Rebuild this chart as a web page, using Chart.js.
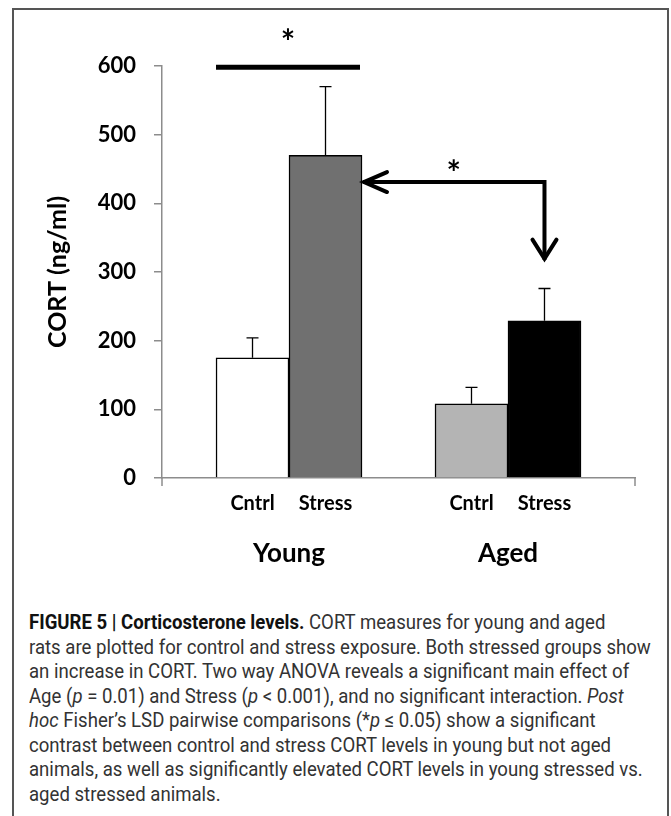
<!DOCTYPE html>
<html>
<head>
<meta charset="utf-8">
<script src="https://cdn.jsdelivr.net/npm/chart.js@4/dist/chart.umd.min.js"></script>
<style>
    html, body { margin: 0; padding: 0; background: #fff; }
    body { width: 671px; height: 816px; position: relative; overflow: hidden; }
    #frame { position: absolute; left: 12px; top: 8px; width: 657px; height: 830px; border: 2px solid #555; box-sizing: border-box; }
    #chartBox { position: absolute; left: 0; top: 0; width: 671px; height: 600px; }
    #caption {
        position: absolute; left: 29px; top: 610px; width: 760px;
        font-family: Roboto, "Liberation Sans", sans-serif; font-size: 21px; line-height: 24.5px;
        color: #333; white-space: nowrap;
        transform: scaleX(0.885); transform-origin: left top;
    }
    #caption b { color: #111; font-weight: 700; }
</style>
</head>
<body>
<div id="frame"></div>
<div id="chartBox"><canvas id="cortChart" width="671" height="600"></canvas></div>
<div id="caption">
    <b>FIGURE 5 | Corticosterone levels.</b> CORT measures for young and aged<br>
    rats are plotted for control and stress exposure. Both stressed groups show<br>
    an increase in CORT. Two way ANOVA reveals a significant main effect of<br>
    Age (<i>p</i> = 0.01) and Stress (<i>p</i> &lt; 0.001), and no significant interaction. <i>Post</i><br>
    <i>hoc</i> Fisher’s LSD pairwise comparisons (*<i>p</i> ≤ 0.05) show a significant<br>
    contrast between control and stress CORT levels in young but not aged<br>
    animals, as well as significantly elevated CORT levels in young stressed vs.<br>
    aged stressed animals.
</div>

<script>
// data
const groups = ['Young', 'Aged'];
const conditions = ['Cntrl', 'Stress', 'Cntrl', 'Stress'];
const groupOf = [0, 0, 1, 1];
const cortMean = [175, 470, 108, 229];
const cortErr = [29, 100, 24, 47];
const barColors = ['#ffffff', '#707070', '#b4b4b4', '#000000'];
const yTicks = [0, 100, 200, 300, 400, 500, 600];

// one empty slot between the two age groups
const slots = conditions.map((c, i) => i + groupOf[i]);
const slotLabel = {};
slots.forEach((s, i) => { slotLabel[s] = conditions[i]; });
const groupCenter = groups.map((g, gi) => {
    const s = slots.filter((v, i) => groupOf[i] === gi);
    return (Math.min(...s) + Math.max(...s)) / 2;
});

const FONT = 'Lato, "Open Sans", "DejaVu Sans", sans-serif';

const annotate = {
    id: 'annotate',
    afterDatasetsDraw(chart) {
        const { ctx, scales: { x, y } } = chart;
        const bars = chart.getDatasetMeta(0).data;
        ctx.save();

        // error bars (upper only)
        ctx.strokeStyle = '#000';
        ctx.lineWidth = 1.3;
        bars.forEach((bar, i) => {
            const top = y.getPixelForValue(cortMean[i] + cortErr[i]);
            ctx.beginPath();
            ctx.moveTo(bar.x, bar.y);
            ctx.lineTo(bar.x, top);
            ctx.moveTo(bar.x - 6, top);
            ctx.lineTo(bar.x + 6, top);
            ctx.stroke();
        });

        // small tick marks at both ends of the x axis
        ctx.strokeStyle = '#8c8c8c';
        ctx.lineWidth = 1.5;
        [x.left, x.right].forEach(px => {
            ctx.beginPath();
            ctx.moveTo(px, y.bottom);
            ctx.lineTo(px, y.bottom + 8);
            ctx.stroke();
        });

        // significance bar over young group
        const b0 = bars[0], b1 = bars[1], b3 = bars[3];
        const lx0 = b0.x - b0.width / 2;
        const lx1 = b1.x + b1.width / 2 - 2;
        const ly = y.getPixelForValue(598);
        ctx.strokeStyle = '#000';
        ctx.lineWidth = 5;
        ctx.beginPath();
        ctx.moveTo(lx0, ly);
        ctx.lineTo(lx1, ly);
        ctx.stroke();

        ctx.fillStyle = '#000';
        ctx.font = 'bold 34px ' + FONT;
        ctx.textAlign = 'center';
        ctx.textBaseline = 'middle';
        ctx.fillText('*', (lx0 + lx1) / 2, ly - 24);

        // elbow arrow between young stress and aged stress
        const hy = y.getPixelForValue(431);
        const vx = b3.x;
        const hx = b1.x + b1.width / 2 + 1;
        const vy = y.getPixelForValue(318);
        ctx.lineWidth = 4;
        ctx.lineJoin = 'miter';
        ctx.beginPath();
        ctx.moveTo(hx, hy);
        ctx.lineTo(vx, hy);
        ctx.lineTo(vx, vy);
        ctx.stroke();

        ctx.lineCap = 'round';
        ctx.beginPath();
        ctx.moveTo(hx + 24, hy - 10);
        ctx.lineTo(hx + 1, hy);
        ctx.lineTo(hx + 24, hy + 10);
        ctx.stroke();
        ctx.beginPath();
        ctx.moveTo(vx - 12, vy - 20);
        ctx.lineTo(vx, vy - 1);
        ctx.lineTo(vx + 12, vy - 20);
        ctx.stroke();

        ctx.fillText('*', (hx + vx) / 2, hy - 8);
        ctx.restore();
    }
};

new Chart(document.getElementById('cortChart'), {
    type: 'bar',
    data: {
        datasets: [{
            data: slots.map((s, i) => ({ x: s, y: cortMean[i] })),
            backgroundColor: barColors,
            borderColor: '#000',
            borderWidth: 1.5,
            categoryPercentage: 1,
            barPercentage: 1
        }]
    },
    options: {
        responsive: false,
        animation: false,
        layout: { padding: { left: 20, top: 66, right: 36, bottom: 26 } },
        plugins: { legend: { display: false }, tooltip: { enabled: false } },
        scales: {
            x: {
                type: 'linear',
                position: 'bottom',
                offset: false,
                min: -1.24,
                max: 5.24,
                grid: { display: false, drawTicks: false, offset: false },
                border: { display: true, color: '#8c8c8c', width: 1.5 },
                ticks: {
                    stepSize: 1,
                    includeBounds: false,
                    autoSkip: false,
                    maxRotation: 0,
                    padding: 14,
                    color: '#000',
                    font: { family: FONT, size: 20, weight: 'bold' },
                    callback: v => slotLabel[v] || ''
                },
                afterFit: s => { s.height = 36; }
            },
            x2: {
                type: 'linear',
                position: 'bottom',
                offset: false,
                min: -1.24,
                max: 5.24,
                grid: { display: false, drawTicks: false, offset: false },
                border: { display: false },
                afterBuildTicks: s => { s.ticks = groupCenter.map(v => ({ value: v })); },
                ticks: {
                    autoSkip: false,
                    maxRotation: 0,
                    padding: 24,
                    color: '#000',
                    font: { family: FONT, size: 26, weight: 'bold' },
                    callback: (v, i) => groups[i]
                },
                afterFit: s => { s.height = 60; }
            },
            y: {
                min: 0,
                max: 600,
                afterBuildTicks: s => { s.ticks = yTicks.map(v => ({ value: v })); },
                grid: { drawOnChartArea: false, drawTicks: true, tickLength: 8, color: '#8c8c8c', lineWidth: 1.5 },
                border: { display: true, color: '#8c8c8c', width: 1.5 },
                ticks: {
                    padding: 18,
                    color: '#000',
                    font: { family: FONT, size: 22, weight: 'bold' }
                },
                title: {
                    display: true,
                    text: 'CORT (ng/ml)',
                    color: '#000',
                    font: { family: FONT, size: 25, weight: 'bold' },
                    padding: { top: 23, bottom: 0 }
                },
                afterFit: s => { s.width = 142; }
            }
        }
    },
    plugins: [annotate]
});
</script>
</body>
</html>
